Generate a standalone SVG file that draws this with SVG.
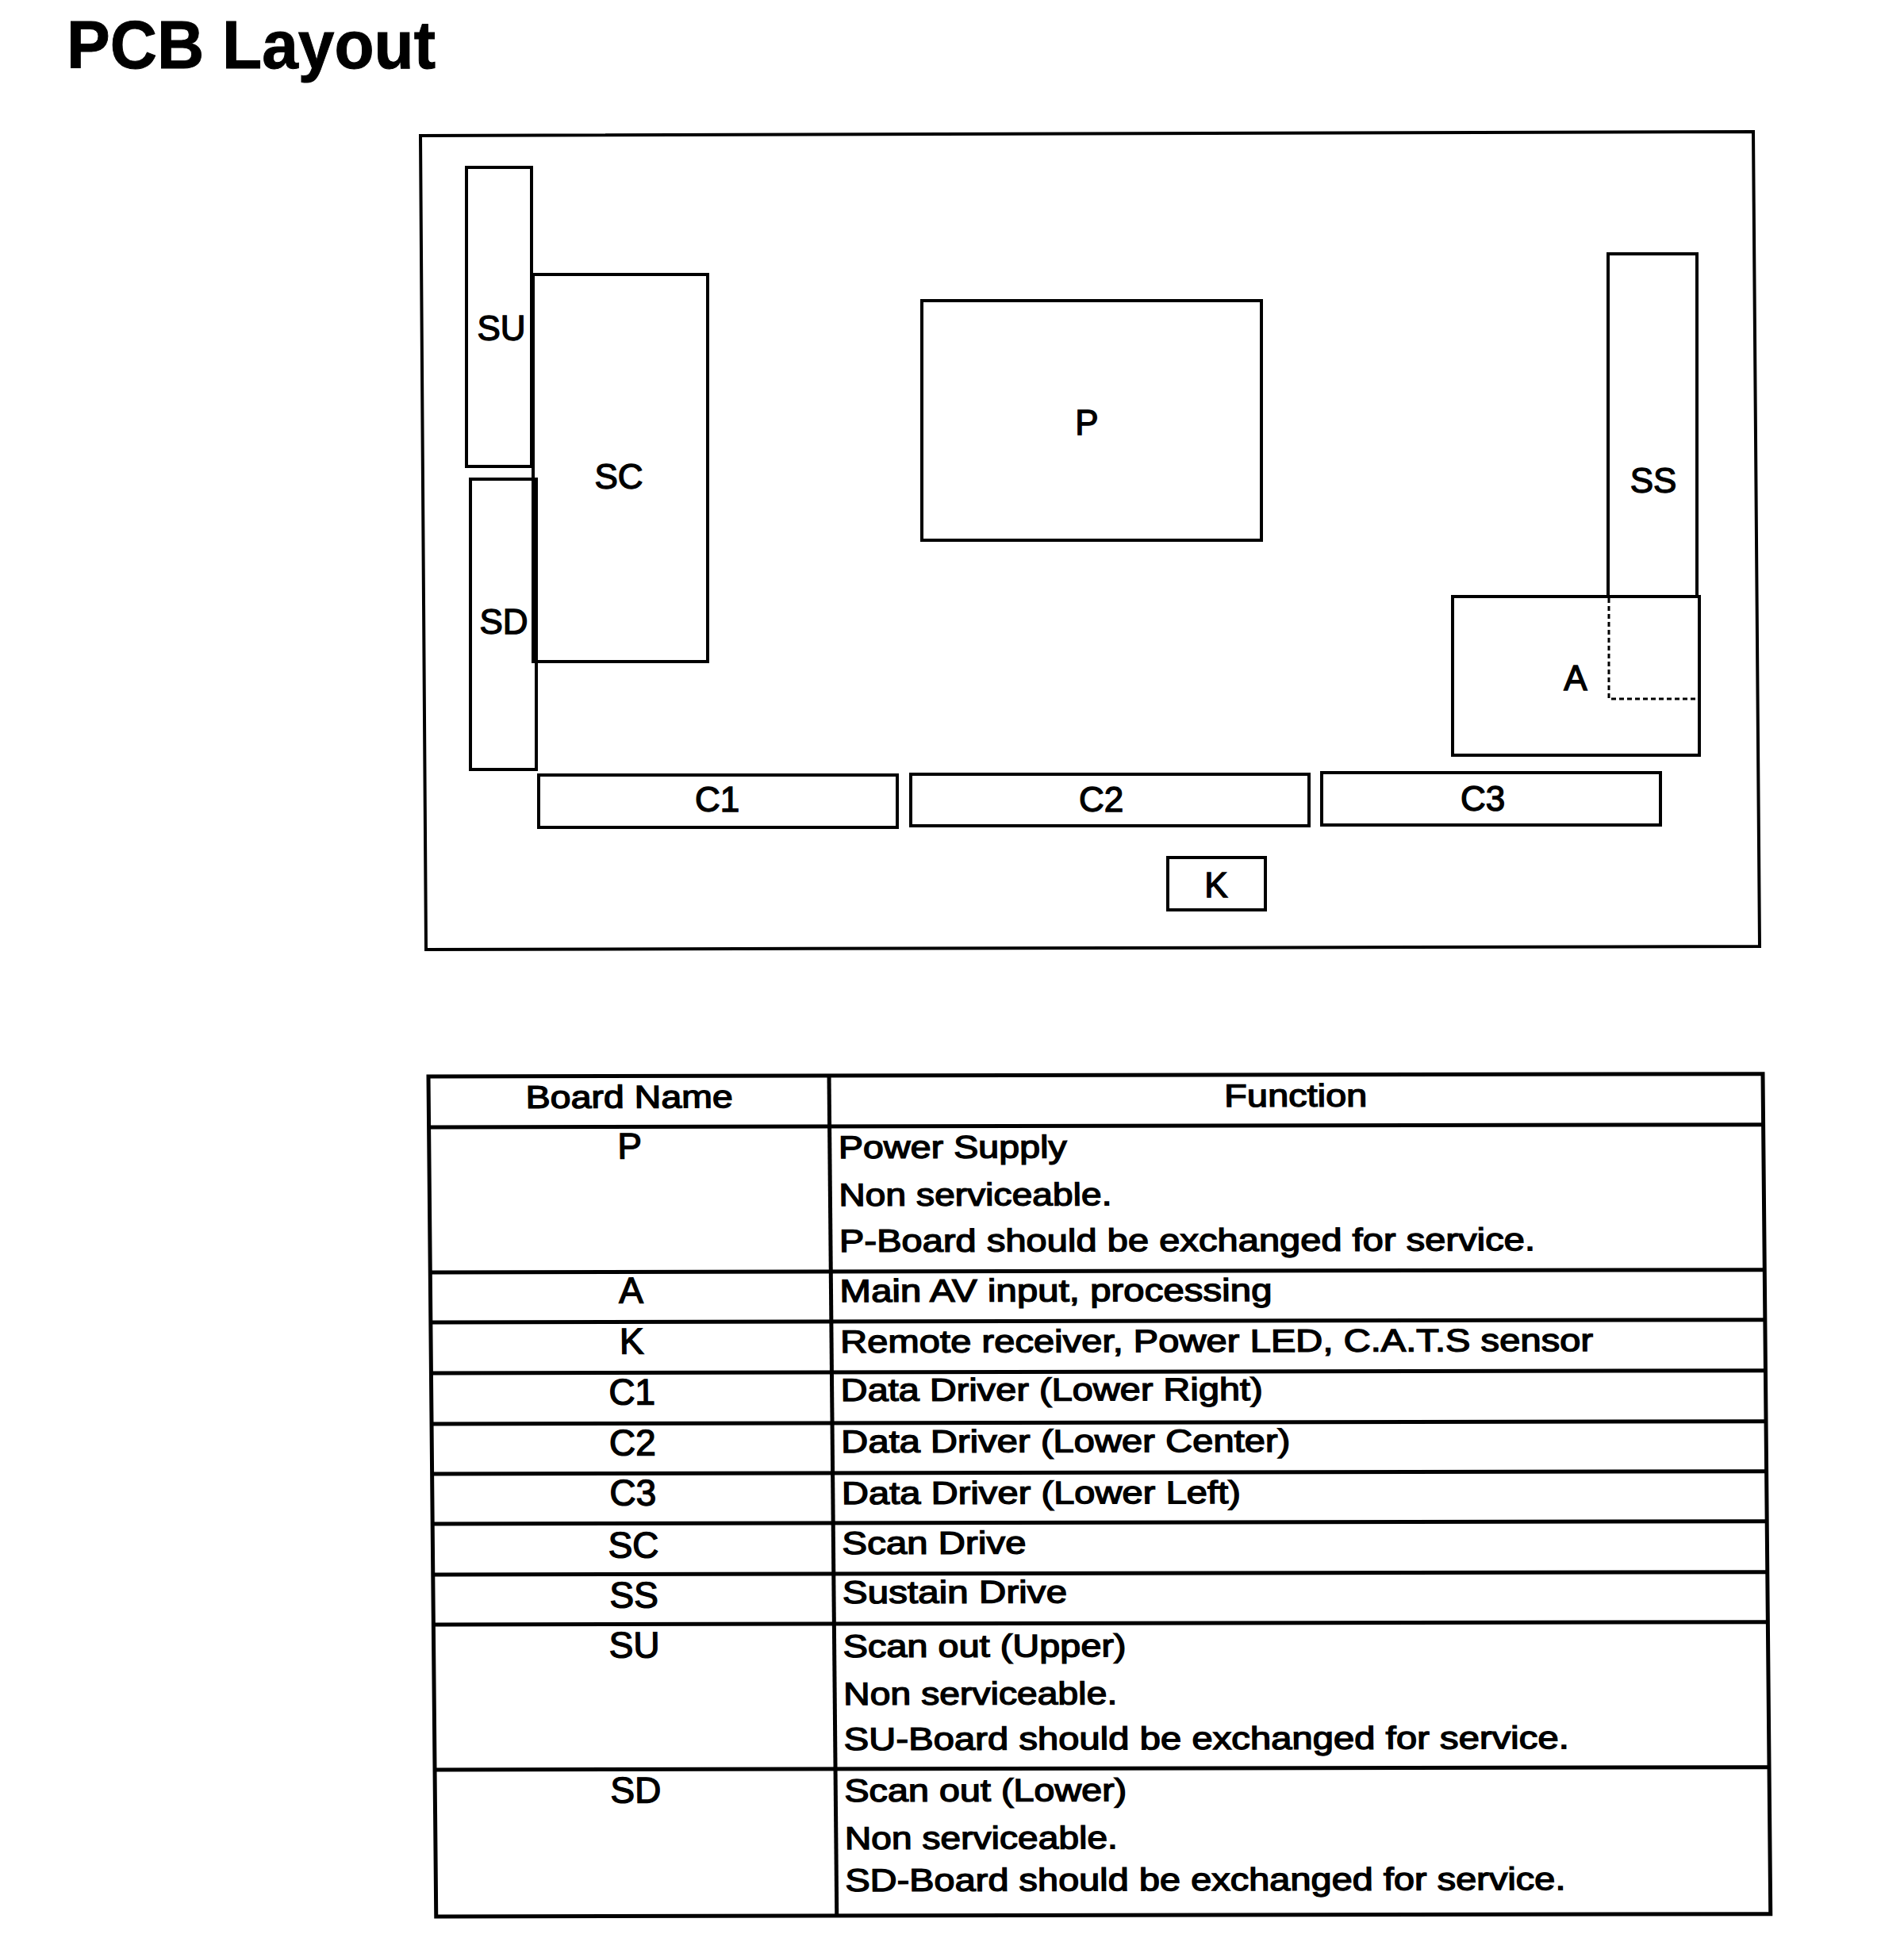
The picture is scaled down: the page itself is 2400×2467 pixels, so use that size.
<svg xmlns="http://www.w3.org/2000/svg" width="2400" height="2467" viewBox="0 0 2400 2467">
<style>
text{font-family:"Liberation Sans",Arial,Helvetica,sans-serif;fill:#000}
.title{font-size:85px;font-weight:bold;stroke:#000;stroke-width:1}
.box{fill:none;stroke:#000;stroke-width:4}
.dash{fill:none;stroke:#000;stroke-width:3;stroke-dasharray:6,4}
.lbl{font-size:44px;text-anchor:middle;stroke:#000;stroke-width:1.4}
.grid{fill:none;stroke:#000;stroke-width:5}
.tl{font-size:46px;text-anchor:middle;stroke:#000;stroke-width:1.4}
.th{font-size:40px;text-anchor:middle;stroke:#000;stroke-width:1.4}
.tf{font-size:40px;stroke:#000;stroke-width:1.4}
</style>
<rect width="2400" height="2467" fill="#fff"/>
<text class="title" x="84" y="86" textLength="465" lengthAdjust="spacingAndGlyphs">PCB Layout</text>

<g id="pcb-frame">
<polygon class="box" points="530,171 2210,166 2218,1193 537,1197"/>
</g>
<g id="node-SU"><rect class="box" x="588" y="211" width="82" height="377"/><text class="lbl" x="632" y="429">SU</text></g>
<g id="node-SD"><rect class="box" x="593" y="604" width="83" height="366"/><text class="lbl" x="635" y="799">SD</text></g>
<g id="node-SC"><rect class="box" x="672" y="346" width="220" height="488"/><text class="lbl" x="780" y="616">SC</text></g>
<g id="node-P"><rect class="box" x="1162" y="379" width="428" height="302"/><text class="lbl" x="1370" y="548">P</text></g>
<g id="node-SS"><rect class="box" x="2027" y="320" width="112" height="432"/><text class="lbl" x="2084" y="621">SS</text></g>
<g id="node-A"><rect class="box" x="1831" y="752" width="311" height="200"/><path class="dash" d="M2028,754 V881 H2140"/><text class="lbl" x="1986" y="870">A</text></g>
<g id="node-C1"><rect class="box" x="679" y="977" width="452" height="66"/><text class="lbl" x="904" y="1023">C1</text></g>
<g id="node-C2"><rect class="box" x="1148" y="976" width="502" height="65"/><text class="lbl" x="1388" y="1023">C2</text></g>
<g id="node-C3"><rect class="box" x="1666" y="974" width="427" height="66"/><text class="lbl" x="1869" y="1022">C3</text></g>
<g id="node-K"><rect class="box" x="1472" y="1081" width="123" height="66"/><text class="lbl" x="1533" y="1131">K</text></g>
<g id="connectors"></g>

<g id="table" transform="matrix(1,-0.002,0.0092,1,-12.48,1.08)">
<g id="table-grid">
<rect class="grid" x="540" y="1357" width="1682" height="1059"/>
<line class="grid" x1="1045" y1="1357" x2="1045" y2="2416"/>
<path class="grid" d="M540,1421H2222M540,1604H2222M540,1667H2222M540,1731H2222M540,1795H2222M540,1858H2222M540,1921H2222M540,1985H2222M540,2048H2222M540,2231H2222"/>
</g>
<g id="table-header">
<text class="th" x="793" y="1397" textLength="261" lengthAdjust="spacingAndGlyphs">Board Name</text>
<text class="th" x="1633" y="1397" textLength="180" lengthAdjust="spacingAndGlyphs">Function</text>
</g>
<g id="row-P"><text class="tl" x="793" y="1461">P</text>
<text class="tf" x="1056" y="1461" textLength="288" lengthAdjust="spacingAndGlyphs">Power Supply</text>
<text class="tf" x="1056" y="1521" textLength="344" lengthAdjust="spacingAndGlyphs">Non serviceable.</text>
<text class="tf" x="1056" y="1579" textLength="877" lengthAdjust="spacingAndGlyphs">P-Board should be exchanged for service.</text></g>
<g id="row-A"><text class="tl" x="793" y="1643">A</text>
<text class="tf" x="1056" y="1642" textLength="545" lengthAdjust="spacingAndGlyphs">Main AV input, processing</text></g>
<g id="row-K"><text class="tl" x="793" y="1707">K</text>
<text class="tf" x="1056" y="1706" textLength="949" lengthAdjust="spacingAndGlyphs">Remote receiver, Power LED, C.A.T.S sensor</text></g>
<g id="row-C1"><text class="tl" x="793" y="1771">C1</text>
<text class="tf" x="1056" y="1767" textLength="532" lengthAdjust="spacingAndGlyphs">Data Driver (Lower Right)</text></g>
<g id="row-C2"><text class="tl" x="793" y="1835">C2</text>
<text class="tf" x="1056" y="1832" textLength="566" lengthAdjust="spacingAndGlyphs">Data Driver (Lower Center)</text></g>
<g id="row-C3"><text class="tl" x="793" y="1898">C3</text>
<text class="tf" x="1056" y="1897" textLength="503" lengthAdjust="spacingAndGlyphs">Data Driver (Lower Left)</text></g>
<g id="row-SC"><text class="tl" x="793" y="1964">SC</text>
<text class="tf" x="1056" y="1960" textLength="232" lengthAdjust="spacingAndGlyphs">Scan Drive</text></g>
<g id="row-SS"><text class="tl" x="793" y="2027">SS</text>
<text class="tf" x="1056" y="2022" textLength="283" lengthAdjust="spacingAndGlyphs">Sustain Drive</text></g>
<g id="row-SU"><text class="tl" x="793" y="2090">SU</text>
<text class="tf" x="1056" y="2090" textLength="357" lengthAdjust="spacingAndGlyphs">Scan out (Upper)</text>
<text class="tf" x="1056" y="2150" textLength="345" lengthAdjust="spacingAndGlyphs">Non serviceable.</text>
<text class="tf" x="1056" y="2207" textLength="914" lengthAdjust="spacingAndGlyphs">SU-Board should be exchanged for service.</text></g>
<g id="row-SD"><text class="tl" x="793" y="2273">SD</text>
<text class="tf" x="1056" y="2272" textLength="356" lengthAdjust="spacingAndGlyphs">Scan out (Lower)</text>
<text class="tf" x="1056" y="2332" textLength="344" lengthAdjust="spacingAndGlyphs">Non serviceable.</text>
<text class="tf" x="1056" y="2385" textLength="908" lengthAdjust="spacingAndGlyphs">SD-Board should be exchanged for service.</text></g>
</g>
</svg>
